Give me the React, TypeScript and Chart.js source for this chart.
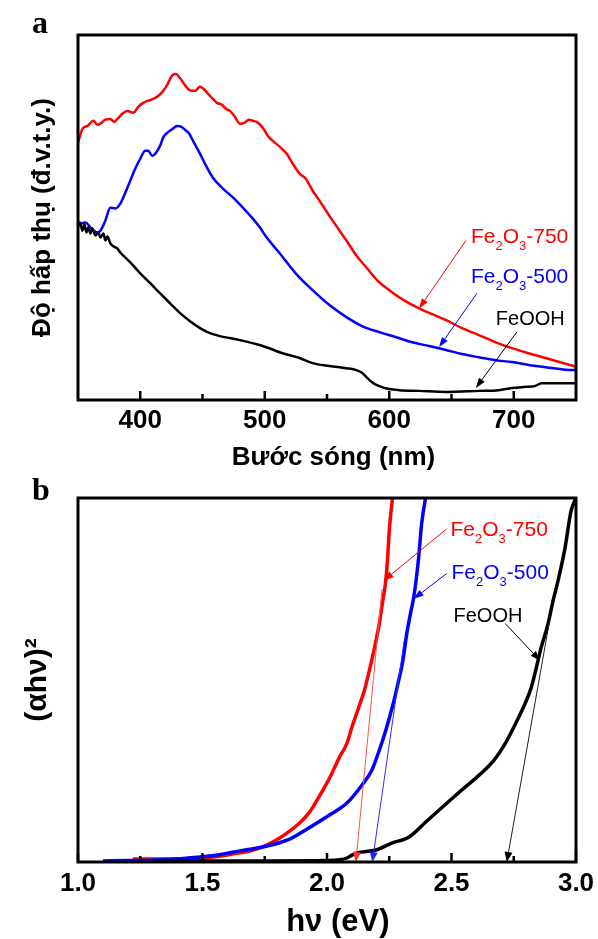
import React, { useEffect, useRef } from 'react';
import { Chart, registerables } from 'chart.js';

Chart.register(...registerables);

const SANS = "'Liberation Sans', Arial, sans-serif";
const SERIF = "'Liberation Serif', 'Times New Roman', serif";

// ---------- Panel a : absorbance vs wavelength ----------
const wavelength750 = [350, 353.6, 357.6, 362.4, 365.6, 368, 372, 376, 379, 381.6, 385.6, 389.6, 394.4, 398.4, 402.4, 406.4, 410.4, 414.4, 418.4, 421.6, 424, 426.4, 428.8, 431.2, 433.6, 438.4, 441.6, 444, 448, 451, 454.4, 458.4, 461.6, 465.6, 468.8, 472, 476, 480, 484, 487.2, 490.4, 494.4, 498.4, 502.4, 506.4, 512, 517.6, 522.4, 528, 532.8, 538.4, 544, 554.4, 565.6, 573.6, 581.6, 590.4, 600, 612, 624, 634.4, 645.6, 658.4, 672, 685.6, 698.4, 712, 725.6, 736.8, 748, 750];
const absorbance750 = [0.705, 0.743, 0.751, 0.765, 0.754, 0.757, 0.768, 0.77, 0.762, 0.77, 0.784, 0.792, 0.787, 0.803, 0.814, 0.82, 0.825, 0.833, 0.847, 0.863, 0.88, 0.891, 0.893, 0.885, 0.874, 0.852, 0.847, 0.847, 0.858, 0.852, 0.839, 0.825, 0.814, 0.809, 0.798, 0.792, 0.776, 0.757, 0.76, 0.768, 0.765, 0.76, 0.746, 0.724, 0.71, 0.694, 0.675, 0.648, 0.62, 0.607, 0.574, 0.546, 0.492, 0.437, 0.396, 0.363, 0.328, 0.301, 0.273, 0.251, 0.235, 0.219, 0.197, 0.178, 0.158, 0.142, 0.128, 0.115, 0.104, 0.093, 0.091];

const wavelength500 = [350.4, 356, 360, 365.6, 368, 372, 376, 380, 384, 388, 392, 396, 400, 404, 406.4, 409.6, 412.8, 416, 418.4, 421.6, 424, 427.2, 429.6, 432.8, 436, 439.2, 443.2, 448, 452.8, 458.4, 466.4, 474.4, 482.4, 490.4, 496, 501.6, 512, 524.8, 538.4, 552, 565.6, 578.4, 592, 605.6, 618.4, 632, 645.6, 658.4, 672, 685.6, 698.4, 712, 725.6, 748, 750];
const absorbance500 = [0.481, 0.486, 0.473, 0.459, 0.464, 0.492, 0.527, 0.525, 0.538, 0.568, 0.601, 0.634, 0.661, 0.683, 0.683, 0.669, 0.678, 0.697, 0.719, 0.732, 0.738, 0.746, 0.751, 0.749, 0.74, 0.73, 0.705, 0.675, 0.642, 0.609, 0.579, 0.555, 0.527, 0.497, 0.473, 0.445, 0.402, 0.347, 0.301, 0.26, 0.227, 0.202, 0.186, 0.172, 0.158, 0.148, 0.137, 0.126, 0.117, 0.109, 0.104, 0.096, 0.09, 0.082, 0.082];

const wavelengthFeOOH = [350, 351.6, 353.6, 355.2, 356.8, 358.4, 360, 361.6, 364, 366.4, 368, 370.4, 372, 373.6, 376, 378.4, 381.6, 384, 392, 400, 408, 416, 424, 432, 440, 448, 456, 464, 480, 498.4, 514.4, 528, 538.4, 552, 565.6, 573.6, 578.4, 582.4, 587.2, 592, 600, 608, 624, 645.6, 672, 688, 698.4, 709.6, 716.8, 722.4, 736, 750];
const absorbanceFeOOH = [0.475, 0.486, 0.464, 0.481, 0.459, 0.473, 0.456, 0.47, 0.451, 0.459, 0.445, 0.456, 0.437, 0.448, 0.429, 0.421, 0.415, 0.404, 0.377, 0.347, 0.32, 0.292, 0.265, 0.238, 0.216, 0.197, 0.183, 0.175, 0.164, 0.148, 0.128, 0.115, 0.101, 0.093, 0.087, 0.082, 0.074, 0.06, 0.046, 0.038, 0.03, 0.027, 0.025, 0.022, 0.025, 0.027, 0.033, 0.036, 0.038, 0.046, 0.046, 0.046];

const xTicksA = [400, 500, 600, 700];
const xMinorTicksA = [450, 550, 650];

// ---------- Panel b : Tauc plot ----------
const energy750 = [1.22, 1.3, 1.4, 1.49, 1.56, 1.62, 1.69, 1.76, 1.81, 1.85, 1.89, 1.93, 1.96, 1.99, 2.02, 2.05, 2.08, 2.1, 2.13, 2.15, 2.17, 2.19, 2.21, 2.224, 2.236, 2.244, 2.25, 2.268];
const tauc750 = [0.008, 0.008, 0.009, 0.011, 0.015, 0.022, 0.03, 0.047, 0.066, 0.085, 0.107, 0.137, 0.17, 0.205, 0.244, 0.288, 0.326, 0.37, 0.43, 0.471, 0.526, 0.586, 0.655, 0.718, 0.773, 0.841, 0.91, 1.03];

const energy500 = [1.1, 1.2, 1.29, 1.4, 1.49, 1.56, 1.62, 1.69, 1.76, 1.85, 1.94, 2.01, 2.08, 2.14, 2.18, 2.21, 2.23, 2.25, 2.27, 2.29, 2.304, 2.32, 2.336, 2.348, 2.36, 2.368, 2.38, 2.396, 2.405];
const tauc500 = [0.003, 0.004, 0.005, 0.008, 0.014, 0.019, 0.027, 0.035, 0.044, 0.063, 0.099, 0.129, 0.162, 0.211, 0.252, 0.307, 0.348, 0.395, 0.446, 0.505, 0.55, 0.626, 0.685, 0.726, 0.786, 0.836, 0.929, 1.0, 1.03];

const energyFeOOH = [1.3, 1.5, 1.75, 2.0, 2.05, 2.08, 2.1, 2.12, 2.196, 2.26, 2.328, 2.4, 2.5, 2.55, 2.61, 2.67, 2.716, 2.744, 2.768, 2.796, 2.82, 2.84, 2.86, 2.888, 2.908, 2.928, 2.956, 2.98, 3.0];
const taucFeOOH = [0.002, 0.003, 0.003, 0.004, 0.006, 0.011, 0.019, 0.025, 0.033, 0.052, 0.068, 0.112, 0.173, 0.203, 0.238, 0.279, 0.326, 0.362, 0.395, 0.436, 0.479, 0.532, 0.589, 0.655, 0.718, 0.773, 0.863, 0.964, 1.0];

const tangentEnergy750 = [2.221, 2.116];
const tangentValue750 = [0.75, 0];
const tangentEnergy500 = [2.31, 2.182];
const tangentValue500 = [0.608, 0];
const tangentEnergyFeOOH = [2.894, 2.722];
const tangentValueFeOOH = [0.663, 0];

const xTicksB = [1.0, 1.5, 2.0, 2.5, 3.0];
const xMinorTicksB = [1.25, 1.75, 2.25, 2.75];

type Part = { t: string; sub?: boolean };
type Note = {
  parts: Part[];
  color: string;
  size: number;
  tx: number;
  ty: number;
  from: [number, number];
  to: [number, number];
};

const fe2o3 = (suffix: string): Part[] => [
  { t: 'Fe' },
  { t: '2', sub: true },
  { t: 'O' },
  { t: '3', sub: true },
  { t: suffix },
];

const notesA: Note[] = [
  { parts: fe2o3('-750'), color: '#ff0000', size: 21, tx: 665.6, ty: 0.429, from: [661.6, 0.437], to: [624, 0.251] },
  { parts: fe2o3('-500'), color: '#0000ff', size: 21, tx: 665.6, ty: 0.32, from: [670.4, 0.292], to: [640, 0.145] },
  { parts: [{ t: 'FeOOH' }], color: '#000000', size: 20, tx: 685.6, ty: 0.205, from: [702.4, 0.186], to: [669.6, 0.033] },
];

const notesB: Note[] = [
  { parts: fe2o3('-750'), color: '#ff0000', size: 21, tx: 2.496, ty: 0.896, from: [2.48, 0.915], to: [2.228, 0.773] },
  { parts: fe2o3('-500'), color: '#0000ff', size: 21, tx: 2.5, ty: 0.778, from: [2.48, 0.792], to: [2.348, 0.723] },
  { parts: [{ t: 'FeOOH' }], color: '#000000', size: 20, tx: 2.508, ty: 0.658, from: [2.716, 0.655], to: [2.856, 0.553] },
];

function drawArrowHead(ctx: CanvasRenderingContext2D, x1: number, y1: number, x2: number, y2: number, color: string, len: number, half: number) {
  const a = Math.atan2(y2 - y1, x2 - x1);
  const c = Math.cos(a);
  const s = Math.sin(a);
  ctx.fillStyle = color;
  ctx.beginPath();
  ctx.moveTo(x2, y2);
  ctx.lineTo(x2 - len * c + half * s, y2 - len * s - half * c);
  ctx.lineTo(x2 - len * c - half * s, y2 - len * s + half * c);
  ctx.closePath();
  ctx.fill();
}

function drawArrow(ctx: CanvasRenderingContext2D, x1: number, y1: number, x2: number, y2: number, color: string) {
  const a = Math.atan2(y2 - y1, x2 - x1);
  const len = 10;
  ctx.strokeStyle = color;
  ctx.lineWidth = 1;
  ctx.beginPath();
  ctx.moveTo(x1, y1);
  ctx.lineTo(x2 - (len - 2) * Math.cos(a), y2 - (len - 2) * Math.sin(a));
  ctx.stroke();
  drawArrowHead(ctx, x1, y1, x2, y2, color, len, 3.5);
}

function decor(letter: string, letterY: number, major: number[], minor: number[], notes: Note[], tangents: { xs: number[]; ys: number[]; color: string }[]) {
  return {
    id: 'decor_' + letter,
    afterDraw(chart: any) {
      const { ctx, chartArea: ca, scales } = chart;
      const xs = scales.x;
      const ys = scales.y;
      ctx.save();
      for (const t of tangents) {
        const x1 = xs.getPixelForValue(t.xs[0]);
        const y1 = ys.getPixelForValue(t.ys[0]);
        const x2 = xs.getPixelForValue(t.xs[1]);
        const y2 = ys.getPixelForValue(t.ys[1]);
        drawArrowHead(ctx, x1, y1, x2, y2, t.color, 10, 4);
      }
      ctx.strokeStyle = '#000';
      ctx.lineWidth = 2.5;
      for (const v of major) {
        const px = xs.getPixelForValue(v);
        ctx.beginPath();
        ctx.moveTo(px, ca.bottom);
        ctx.lineTo(px, ca.bottom - 9);
        ctx.stroke();
      }
      for (const v of minor) {
        const px = xs.getPixelForValue(v);
        ctx.beginPath();
        ctx.moveTo(px, ca.bottom);
        ctx.lineTo(px, ca.bottom - 6);
        ctx.stroke();
      }
      ctx.lineWidth = 3;
      ctx.strokeRect(ca.left, ca.top, ca.right - ca.left, ca.bottom - ca.top);
      for (const n of notes) {
        drawArrow(ctx, xs.getPixelForValue(n.from[0]), ys.getPixelForValue(n.from[1]), xs.getPixelForValue(n.to[0]), ys.getPixelForValue(n.to[1]), n.color);
        let x = xs.getPixelForValue(n.tx);
        const y = ys.getPixelForValue(n.ty);
        ctx.fillStyle = n.color;
        ctx.textAlign = 'left';
        ctx.textBaseline = 'alphabetic';
        for (const p of n.parts) {
          const sz = p.sub ? Math.round(n.size * 0.6) : n.size;
          ctx.font = `${sz}px ${SANS}`;
          ctx.fillText(p.t, x, p.sub ? y + n.size * 0.33 : y);
          x += ctx.measureText(p.t).width;
        }
      }
      ctx.fillStyle = '#000';
      ctx.font = `bold 32px ${SERIF}`;
      ctx.textAlign = 'left';
      ctx.textBaseline = 'alphabetic';
      ctx.fillText(letter, 32, letterY);
      ctx.restore();
    },
  };
}

function series(xs: number[], ys: number[], color: string, width: number, smooth: boolean) {
  return {
    data: xs.map((x, i) => ({ x, y: ys[i] })),
    borderColor: color,
    backgroundColor: color,
    borderWidth: width,
    pointRadius: 0,
    tension: 0,
    cubicInterpolationMode: smooth ? 'monotone' : 'default',
    fill: false,
  };
}

function axisFont(size: number) {
  return { family: SANS, size, weight: 'bold' as const, lineHeight: 1 };
}

const fitX = (h: number) => (s: any) => {
  s.height = h;
  s.paddingLeft = 0;
  s.paddingRight = 0;
};

export default function App() {
  const refA = useRef<HTMLCanvasElement>(null);
  const refB = useRef<HTMLCanvasElement>(null);

  useEffect(() => {
    const chartA = new Chart(refA.current as HTMLCanvasElement, {
      type: 'line',
      data: {
        datasets: [
          series(wavelengthFeOOH, absorbanceFeOOH, '#000000', 2.5, true),
          series(wavelength500, absorbance500, '#0000ff', 2.5, true),
          series(wavelength750, absorbance750, '#ff0000', 2.5, true),
        ] as any,
      },
      options: {
        responsive: false,
        animation: false,
        events: [],
        layout: { padding: { left: 0, right: 22, top: 35, bottom: 0 } },
        plugins: { legend: { display: false }, tooltip: { enabled: false } },
        scales: {
          x: {
            type: 'linear',
            min: 350,
            max: 750,
            afterBuildTicks: (s: any) => {
              s.ticks = xTicksA.map((v) => ({ value: v }));
            },
            afterFit: fitX(76),
            grid: { display: false, drawTicks: false },
            border: { display: false },
            ticks: {
              color: '#000',
              font: axisFont(26),
              padding: 8,
              maxRotation: 0,
              autoSkip: false,
              callback: (v: any) => String(v),
            },
            title: {
              display: true,
              text: '\u2002Bước sóng (nm)',
              color: '#000',
              font: axisFont(26),
              padding: { top: 0, bottom: 5 },
            },
          },
          y: {
            type: 'linear',
            min: 0,
            max: 1,
            afterFit: (s: any) => {
              s.width = 78;
            },
            grid: { display: false },
            border: { display: false },
            ticks: { display: false },
            title: {
              display: true,
              text: 'Độ hấp thụ (đ.v.t.y.)',
              color: '#000',
              font: axisFont(26),
              padding: { top: 30, bottom: 0 },
            },
          },
        },
      } as any,
      plugins: [decor('a', 33, xTicksA, xMinorTicksA, notesA, [])],
    });

    const chartB = new Chart(refB.current as HTMLCanvasElement, {
      type: 'line',
      data: {
        datasets: [
          series(tangentEnergy750, tangentValue750, '#ff5050', 1, false),
          series(tangentEnergy500, tangentValue500, '#3030ff', 1, false),
          series(tangentEnergyFeOOH, tangentValueFeOOH, '#202020', 1, false),
          series(energyFeOOH, taucFeOOH, '#000000', 3.5, true),
          series(energy500, tauc500, '#0000ff', 3.5, true),
          series(energy750, tauc750, '#ff0000', 3.5, true),
        ] as any,
      },
      options: {
        responsive: false,
        animation: false,
        events: [],
        layout: { padding: { left: 0, right: 22, top: 22, bottom: 0 } },
        plugins: { legend: { display: false }, tooltip: { enabled: false } },
        scales: {
          x: {
            type: 'linear',
            min: 1,
            max: 3,
            afterBuildTicks: (s: any) => {
              s.ticks = xTicksB.map((v) => ({ value: v }));
            },
            afterFit: fitX(77),
            grid: { display: false, drawTicks: false },
            border: { display: false },
            ticks: {
              color: '#000',
              font: axisFont(26),
              padding: 9,
              maxRotation: 0,
              autoSkip: false,
              callback: (v: any) => Number(v).toFixed(1),
            },
            title: {
              display: true,
              text: '\u2002\u2009hν (eV)',
              color: '#000',
              font: axisFont(31),
              padding: { top: 0, bottom: 1 },
            },
          },
          y: {
            type: 'linear',
            min: 0,
            max: 1,
            afterFit: (s: any) => {
              s.width = 78;
            },
            grid: { display: false },
            border: { display: false },
            ticks: { display: false },
            title: {
              display: true,
              text: '(αhν)²',
              color: '#000',
              font: axisFont(30),
              padding: { top: 23, bottom: 0 },
            },
          },
        },
      } as any,
      plugins: [
        decor('b', 24, xTicksB, xMinorTicksB, notesB, [
          { xs: tangentEnergy750, ys: tangentValue750, color: '#ff3030' },
          { xs: tangentEnergy500, ys: tangentValue500, color: '#2020ff' },
          { xs: tangentEnergyFeOOH, ys: tangentValueFeOOH, color: '#000000' },
        ]),
      ],
    });

    return () => {
      chartA.destroy();
      chartB.destroy();
    };
  }, []);

  return (
    <div style={{ position: 'absolute', left: 0, top: 0, width: 598, height: 939, background: '#fff' }}>
      <canvas ref={refA} width={598} height={476} style={{ position: 'absolute', left: 0, top: 0, width: 598, height: 476 }} />
      <canvas ref={refB} width={598} height={463} style={{ position: 'absolute', left: 0, top: 476, width: 598, height: 463 }} />
    </div>
  );
}
